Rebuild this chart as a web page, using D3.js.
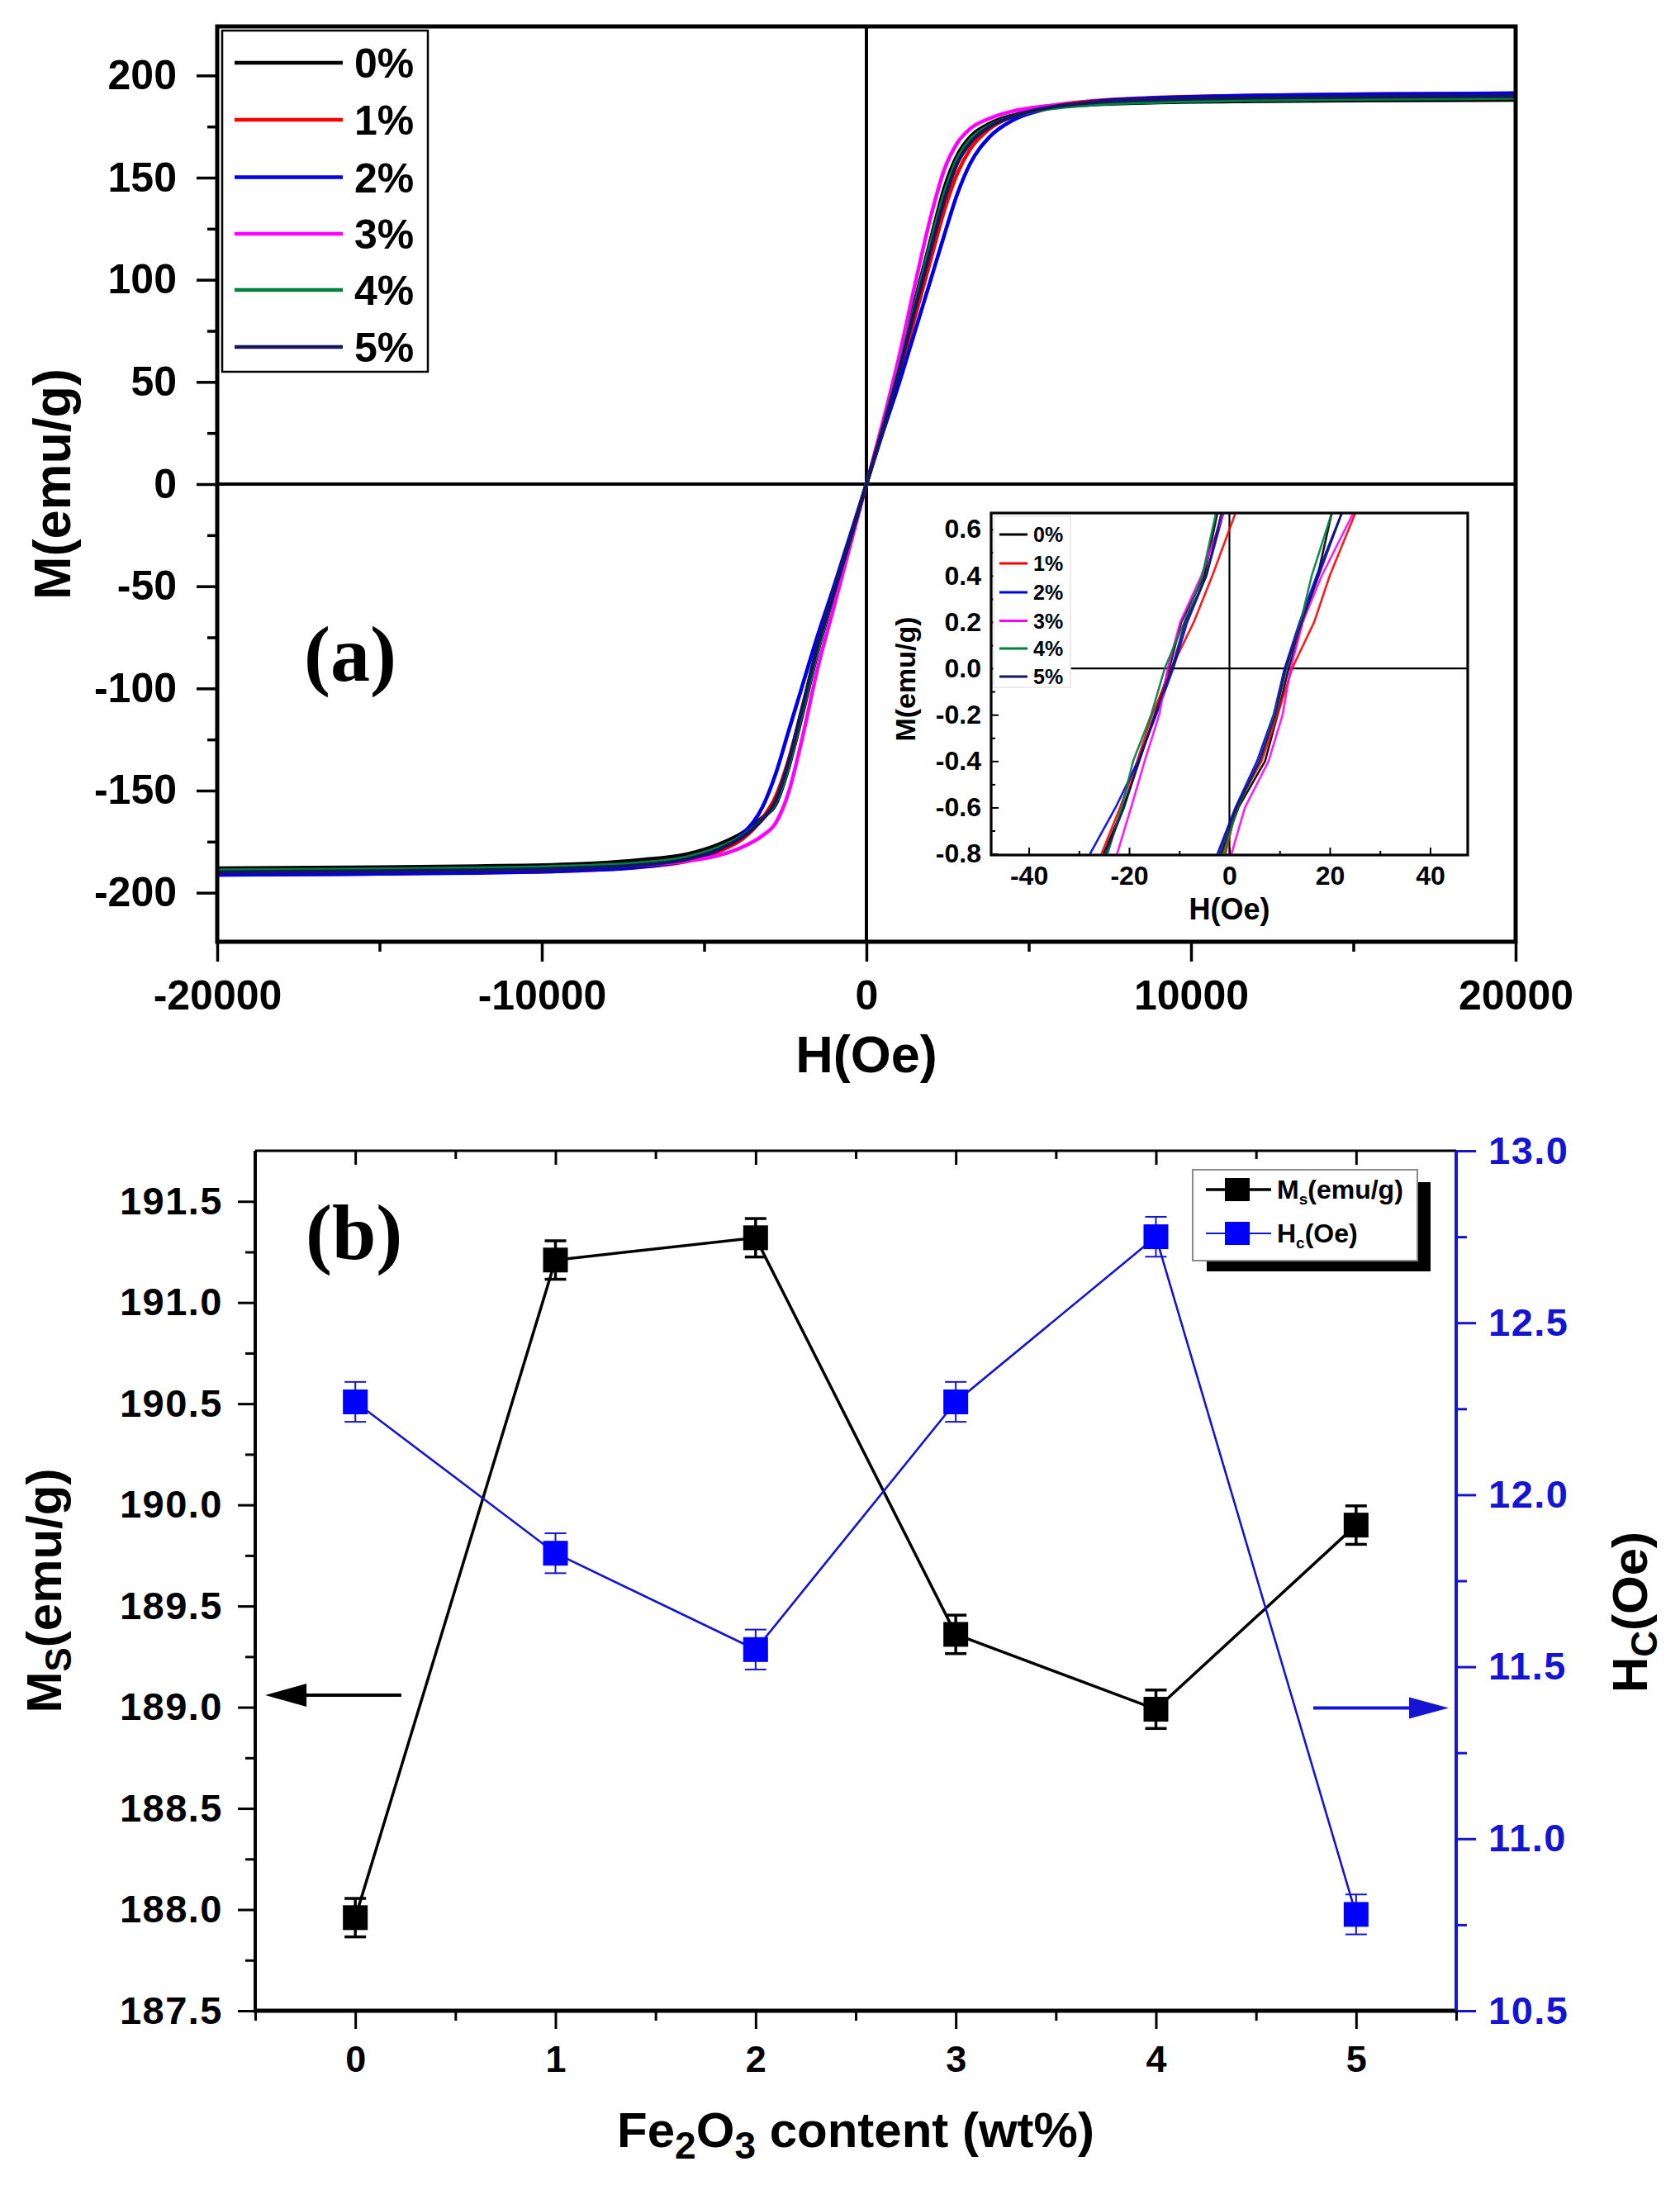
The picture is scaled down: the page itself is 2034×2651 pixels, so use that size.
<!DOCTYPE html>
<html><head><meta charset="utf-8">
<script src="https://cdn.jsdelivr.net/npm/d3@7"></script>
<style>html,body{margin:0;padding:0;background:#fff;}svg{display:block;}</style>
</head><body>
<svg id="chart" width="2034" height="2651" viewBox="0 0 2034 2651"></svg>
<script>
// ================= DATA =================
// Panel (a): hysteresis loops, M (emu/g) vs H (Oe)
const seriesNames = ["0%", "1%", "2%", "3%", "4%", "5%"];
const seriesColors = ["#000000", "#ff0000", "#0000e6", "#ff00ff", "#008040", "#16165e"];
const fieldH = [-20000,-16000,-12000,-9000,-7000,-5500,-4500,-3800,-3200,-2800,-2400,-2000,-1500,-1000,-500,0,
                500,1000,1500,2000,2400,2800,3200,3800,4500,5500,7000,9000,12000,16000,20000];
const mag0 = [-188.0,-187.6,-187.0,-186.0,-184.0,-181.0,-176.0,-170.5,-163.0,-157.0,-139.0,-114.5,-82,-54,-27,0,
              28,57,90,121,145,161,170,176.5,180.5,183.8,185.8,186.8,187.4,187.8,188.0];
const mag1 = [-191.2,-190.8,-190.2,-189.2,-187.5,-184.5,-179.5,-173.5,-163.5,-153.0,-135.0,-111.0,-80,-52,-26,0,
              26,52,82,111,134,152,164,174,180,184.6,187.6,189.2,190.2,190.8,191.2];
const mag2 = [-191.3,-190.9,-190.3,-189.2,-187.5,-184.0,-178.5,-171.0,-158.0,-142.0,-121.0,-100.0,-74,-50,-25,0,
              25,49,75,101,122,142,157,170,178,183.5,187.2,189.0,190.2,190.9,191.3];
const mag3 = [-189.4,-189.0,-188.4,-187.6,-186.5,-184.5,-181.5,-177.5,-172.0,-166.0,-151.0,-126.0,-90,-60,-30,0,
              30,62,98,132,154,167,174,179,182.5,185.0,186.8,187.8,188.6,189.0,189.4];
const mag4 = [-189.0,-188.6,-188.0,-187.0,-185.5,-182.5,-177.5,-172.0,-164.0,-156.0,-138.0,-113.0,-81,-53,-27,0,
              27,56,88,119,142,159,168.5,175.5,180,183.5,185.8,187.0,188.0,188.6,189.0];
const mag5 = [-189.9,-189.5,-189.0,-188.0,-186.5,-183.5,-178.5,-172.5,-164.0,-155.0,-136.0,-111.0,-79,-53,-27,0,
              27,55,86,116,139,157,167,175,180,184,186.8,188.2,189.1,189.6,189.9];
const mainTicksM = [-200,-150,-100,-50,0,50,100,150,200];
const mainTicksH = [-20000,-10000,0,10000,20000];

// Inset: low-field detail, H (Oe) at given M levels for each branch
const insetM = [-0.8,-0.6,-0.4,-0.2,0,0.2,0.4,0.67];
const insetDesc0 = [-25.1,-21.2,-18.0,-14.8,-12.0,-9.6,-5.0,-2.4];
const insetDesc1 = [-25.5,-21.8,-18.4,-15.4,-11.6,-7.1,-3.4,1.2];
const insetDesc2 = [-27.8,-22.7,-18.2,-14.6,-11.2,-8.4,-4.6,-1.2];
const insetDesc3 = [-22.4,-19.6,-16.9,-14.0,-12.3,-9.8,-5.6,-1.2];
const insetDesc4 = [-24.3,-21.5,-19.2,-15.6,-12.9,-9.0,-5.4,-2.7];
const insetDesc5 = [-24.7,-21.0,-18.0,-14.9,-11.5,-8.8,-4.6,-1.6];
const insetAsc0 = [-1.6,1.8,7.1,9.6,11.8,14.6,17.6,20.4];
const insetAsc1 = [-0.8,1.4,6.4,9.6,12.5,16.9,20.0,25.1];
const insetAsc2 = [-2.4,1.2,5.5,8.8,11.0,14.0,17.4,22.4];
const insetAsc3 = [0.4,3.1,7.8,10.6,12.2,14.6,18.4,24.7];
const insetAsc4 = [-1.2,1.6,6.0,9.0,11.4,14.2,16.4,20.4];
const insetAsc5 = [-2.0,1.4,6.0,9.2,11.2,14.4,17.8,22.4];
const insetTicksH = [-40,-20,0,20,40];
const insetTicksM = [-0.8,-0.6,-0.4,-0.2,0,0.2,0.4,0.6];

// Panel (b): Ms and Hc vs Fe2O3 content
const content = [0,1,2,3,4,5];
const msValues = [187.96,191.21,191.32,189.36,188.99,189.90];
const msErrors = [0.095,0.095,0.095,0.095,0.095,0.095];
const hcValues = [12.27,11.83,11.55,12.27,12.75,10.78];
const hcErrors = [0.058,0.058,0.058,0.058,0.058,0.058];
const msTicks = [187.5,188.0,188.5,189.0,189.5,190.0,190.5,191.0,191.5];
const hcTicks = [10.5,11.0,11.5,12.0,12.5,13.0];

// ================= DRAW =================
const SANS = "'Liberation Sans', Arial, Helvetica, sans-serif";
const SERIF = "'Liberation Serif', 'Times New Roman', serif";
const svg = d3.select("#chart");
svg.append("rect").attr("width", 2034).attr("height", 2651).attr("fill", "#fff");
const defs = svg.append("defs");

function drawAxis(axis, transform, o) {
  const g = svg.append("g").attr("transform", transform).call(axis);
  g.select(".domain").remove();
  g.selectAll(".tick line").attr("stroke", o.color || "#000").attr("stroke-width", o.width || 3);
  g.selectAll(".tick text").attr("fill", o.color || "#000")
    .style("font-family", SANS).style("font-size", (o.fs || 40) + "px").style("font-weight", "bold");
  if (o.letter) g.selectAll(".tick text").style("letter-spacing", o.letter + "px");
  return g;
}
function txt(x, y, s, o) {
  return svg.append("text").attr("x", x).attr("y", y).text(s)
    .style("font-family", o.font || SANS).style("font-size", o.fs + "px")
    .style("font-weight", "bold").attr("fill", o.color || "#000")
    .attr("text-anchor", o.anchor || "start");
}

// ---------- Panel (a) ----------
const A = {l: 263, r: 1835, t: 32, b: 1140};
const xA = d3.scaleLinear().domain([-20000, 20000]).range([A.l, A.r]);
const yA = d3.scaleLinear().domain([-224, 224]).range([A.b, A.t]);
defs.append("clipPath").attr("id", "clipA").append("rect")
  .attr("x", A.l).attr("y", A.t).attr("width", A.r - A.l).attr("height", A.b - A.t);

// zero lines
svg.append("line").attr("x1", A.l).attr("x2", A.r).attr("y1", yA(0)).attr("y2", yA(0)).attr("stroke", "#000").attr("stroke-width", 4);
svg.append("line").attr("x1", xA(0)).attr("x2", xA(0)).attr("y1", A.t).attr("y2", A.b).attr("stroke", "#000").attr("stroke-width", 4);

const mainSeries = [mag0, mag1, mag2, mag3, mag4, mag5];
const lineA = d3.line().x(d => xA(d[0])).y(d => yA(d[1])).curve(d3.curveMonotoneX);
const gCurves = svg.append("g").attr("clip-path", "url(#clipA)");
mainSeries.forEach((m, i) => {
  gCurves.append("path").datum(fieldH.map((h, j) => [h, m[j]]))
    .attr("d", lineA).attr("fill", "none").attr("stroke", seriesColors[i])
    .attr("stroke-width", 4.5).attr("stroke-linejoin", "round");
});

// axes a
drawAxis(d3.axisLeft(yA).tickValues([-175,-125,-75,-25,25,75,125,175]).tickSize(12).tickFormat(""), `translate(${A.l},0)`, {width: 3.5});
drawAxis(d3.axisLeft(yA).tickValues(mainTicksM).tickSize(25).tickPadding(24).tickFormat(d => String(d)), `translate(${A.l},0)`, {fs: 50, width: 3.5});
drawAxis(d3.axisBottom(xA).tickValues([-15000,-5000,5000,15000]).tickSize(12).tickFormat(""), `translate(0,${A.b})`, {width: 3.5});
drawAxis(d3.axisBottom(xA).tickValues(mainTicksH).tickSize(24).tickPadding(22).tickFormat(d => String(d)), `translate(0,${A.b})`, {fs: 50, width: 3.5});
svg.append("rect").attr("x", A.l).attr("y", A.t).attr("width", A.r - A.l).attr("height", A.b - A.t)
  .attr("fill", "none").attr("stroke", "#000").attr("stroke-width", 5);

// titles a
txt(xA(0), 1298, "H(Oe)", {fs: 63, anchor: "middle"});
txt(0, 0, "M(emu/g)", {fs: 63, anchor: "middle"}).attr("transform", `translate(85,${yA(0)}) rotate(-90)`);
txt(368, 824, "(a)", {fs: 96, font: SERIF});

// legend a
svg.append("rect").attr("x", 269).attr("y", 37).attr("width", 249).attr("height", 413)
  .attr("fill", "#fff").attr("stroke", "#000").attr("stroke-width", 2.5);
const legRowsA = [76, 145, 214.5, 283, 351, 420];
seriesNames.forEach((n, i) => {
  svg.append("line").attr("x1", 284).attr("x2", 415).attr("y1", legRowsA[i]).attr("y2", legRowsA[i])
    .attr("stroke", seriesColors[i]).attr("stroke-width", 4.5);
  txt(429, legRowsA[i], n, {fs: 50}).attr("dy", "0.36em");
});

// ---------- Inset ----------
const I = {l: 1200, r: 1777, t: 621, b: 1035};
const xI = d3.scaleLinear().domain([-47.5, 47.5]).range([I.l, I.r]);
const yI = d3.scaleLinear().domain([-0.805, 0.67]).range([I.b, I.t]);
defs.append("clipPath").attr("id", "clipI").append("rect")
  .attr("x", I.l).attr("y", I.t).attr("width", I.r - I.l).attr("height", I.b - I.t);
svg.append("rect").attr("x", I.l).attr("y", I.t).attr("width", I.r - I.l).attr("height", I.b - I.t).attr("fill", "#fff");
svg.append("line").attr("x1", I.l).attr("x2", I.r).attr("y1", yI(0)).attr("y2", yI(0)).attr("stroke", "#000").attr("stroke-width", 2.2);
svg.append("line").attr("x1", xI(0)).attr("x2", xI(0)).attr("y1", I.t).attr("y2", I.b).attr("stroke", "#000").attr("stroke-width", 2.2);

const descSeries = [insetDesc0, insetDesc1, insetDesc2, insetDesc3, insetDesc4, insetDesc5];
const ascSeries = [insetAsc0, insetAsc1, insetAsc2, insetAsc3, insetAsc4, insetAsc5];
const lineI = d3.line().x(d => xI(d[0])).y(d => yI(d[1]));
const gI = svg.append("g").attr("clip-path", "url(#clipI)");
[0, 1, 2, 3, 4, 5].forEach(i => {
  [descSeries[i], ascSeries[i]].forEach(br => {
    gI.append("path").datum(br.map((h, j) => [h, insetM[j]])).attr("d", lineI)
      .attr("fill", "none").attr("stroke", seriesColors[i]).attr("stroke-width", 2.6)
      .attr("stroke-opacity", 0.9).attr("stroke-linejoin", "round");
  });
});

// inset axes (ticks inward)
drawAxis(d3.axisBottom(xI).tickValues([-30,-10,10,30]).tickSize(-5).tickFormat(""), `translate(0,${I.b})`, {width: 2});
drawAxis(d3.axisBottom(xI).tickValues(insetTicksH).tickSize(-9).tickPadding(13).tickFormat(d => String(d)), `translate(0,${I.b})`, {fs: 32, width: 2});
drawAxis(d3.axisLeft(yI).tickValues([-0.7,-0.5,-0.3,-0.1,0.1,0.3,0.5]).tickSize(-5).tickFormat(""), `translate(${I.l},0)`, {width: 2});
drawAxis(d3.axisLeft(yI).tickValues(insetTicksM).tickSize(-9).tickPadding(12).tickFormat(d => d.toFixed(1)), `translate(${I.l},0)`, {fs: 32, width: 2});
svg.append("rect").attr("x", I.l).attr("y", I.t).attr("width", I.r - I.l).attr("height", I.b - I.t)
  .attr("fill", "none").attr("stroke", "#000").attr("stroke-width", 3.2);
txt(xI(0), 1113, "H(Oe)", {fs: 36, anchor: "middle"});
txt(0, 0, "M(emu/g)", {fs: 34, anchor: "middle"}).attr("transform", `translate(1108,822) rotate(-90)`);

// inset legend
svg.append("rect").attr("x", 1203).attr("y", 625).attr("width", 93).attr("height", 207)
  .attr("fill", "#fff").attr("stroke", "#e4e4e4").attr("stroke-width", 1.5);
const legRowsI = [647, 682, 717, 751.5, 785, 819];
seriesNames.forEach((n, i) => {
  svg.append("line").attr("x1", 1210).attr("x2", 1244).attr("y1", legRowsI[i]).attr("y2", legRowsI[i])
    .attr("stroke", seriesColors[i]).attr("stroke-width", 3.2);
  txt(1251, legRowsI[i], n, {fs: 25}).attr("dy", "0.36em");
});

// ---------- Panel (b) ----------
const B = {l: 309, r: 1763, t: 1393, b: 2434};
const xB = d3.scaleLinear().domain([-0.5, 5.5]).range([B.l, B.r]);
const yL = d3.scaleLinear().domain([187.5, 191.75]).range([B.b, B.t]);
const yR = d3.scaleLinear().domain([10.5, 13.0]).range([B.b, B.t]);
const BLUE = "#1414d2";

// bottom axis
drawAxis(d3.axisBottom(xB).tickValues([-0.5,0.5,1.5,2.5,3.5,4.5,5.5]).tickSize(12).tickFormat(""), `translate(0,${B.b})`, {width: 3});
drawAxis(d3.axisBottom(xB).tickValues(content).tickSize(22).tickPadding(20).tickFormat(d => String(d)), `translate(0,${B.b})`, {fs: 45, width: 3});
// top axis inward
drawAxis(d3.axisTop(xB).tickValues([0.5,1.5,2.5,3.5,4.5]).tickSize(-10).tickFormat(""), `translate(0,${B.t})`, {width: 3});
drawAxis(d3.axisTop(xB).tickValues(content).tickSize(-17).tickFormat(""), `translate(0,${B.t})`, {width: 3});
// left axis
drawAxis(d3.axisLeft(yL).tickValues([187.75,188.25,188.75,189.25,189.75,190.25,190.75,191.25]).tickSize(12).tickFormat(""), `translate(${B.l},0)`, {width: 3});
drawAxis(d3.axisLeft(yL).tickValues(msTicks).tickSize(21).tickPadding(18).tickFormat(d => d.toFixed(1)), `translate(${B.l},0)`, {fs: 47, width: 3, letter: 1.5});
// right axis
drawAxis(d3.axisRight(yR).tickValues([10.75,11.25,11.75,12.25,12.75]).tickSize(13).tickFormat(""), `translate(${B.r},0)`, {width: 3, color: BLUE});
drawAxis(d3.axisRight(yR).tickValues(hcTicks).tickSize(24).tickPadding(15).tickFormat(d => d.toFixed(1)), `translate(${B.r},0)`, {fs: 47, width: 3, color: BLUE, letter: 1.5});
// frame
svg.append("line").attr("x1", B.l).attr("x2", B.r).attr("y1", B.t).attr("y2", B.t).attr("stroke", "#000").attr("stroke-width", 3);
svg.append("line").attr("x1", B.l - 2).attr("x2", B.r + 2).attr("y1", B.b).attr("y2", B.b).attr("stroke", "#000").attr("stroke-width", 5);
svg.append("line").attr("x1", B.l).attr("x2", B.l).attr("y1", B.t).attr("y2", B.b).attr("stroke", "#000").attr("stroke-width", 4);
svg.append("line").attr("x1", B.r).attr("x2", B.r).attr("y1", B.t).attr("y2", B.b).attr("stroke", BLUE).attr("stroke-width", 4);

// data lines
const msPts = content.map((c, i) => [c, msValues[i], msErrors[i]]);
const hcPts = content.map((c, i) => [c, hcValues[i], hcErrors[i]]);
svg.append("path").datum(msPts).attr("d", d3.line().x(d => xB(d[0])).y(d => yL(d[1])))
  .attr("fill", "none").attr("stroke", "#000").attr("stroke-width", 3.5);
svg.append("path").datum(hcPts).attr("d", d3.line().x(d => xB(d[0])).y(d => yR(d[1])))
  .attr("fill", "none").attr("stroke", BLUE).attr("stroke-width", 2.6);

function points(pts, ys, color, fillc, ew) {
  const g = svg.append("g");
  pts.forEach(d => {
    const x = xB(d[0]), y0 = ys(d[1] - d[2]), y1 = ys(d[1] + d[2]);
    g.append("line").attr("x1", x).attr("x2", x).attr("y1", y0).attr("y2", y1).attr("stroke", color).attr("stroke-width", ew);
    g.append("line").attr("x1", x - 13).attr("x2", x + 13).attr("y1", y0).attr("y2", y0).attr("stroke", color).attr("stroke-width", ew);
    g.append("line").attr("x1", x - 13).attr("x2", x + 13).attr("y1", y1).attr("y2", y1).attr("stroke", color).attr("stroke-width", ew);
    g.append("rect").attr("x", x - 15).attr("y", ys(d[1]) - 15).attr("width", 30).attr("height", 30).attr("fill", fillc);
  });
}
points(msPts, yL, "#000", "#000", 3.5);
points(hcPts, yR, BLUE, "#0000ff", 2);

// arrows
const arrowY1 = yL(189.06);
svg.append("line").attr("x1", xB(0.23)).attr("x2", xB(-0.35)).attr("y1", arrowY1).attr("y2", arrowY1).attr("stroke", "#000").attr("stroke-width", 4);
svg.append("path").attr("d", `M${xB(-0.45)},${arrowY1} L${xB(-0.45) + 50},${arrowY1 - 14} L${xB(-0.45) + 50},${arrowY1 + 14} Z`).attr("fill", "#000");
const arrowY2 = yR(11.38);
svg.append("line").attr("x1", xB(4.786)).attr("x2", xB(5.35)).attr("y1", arrowY2).attr("y2", arrowY2).attr("stroke", BLUE).attr("stroke-width", 4);
svg.append("path").attr("d", `M${xB(5.463)},${arrowY2} L${xB(5.463) - 48},${arrowY2 - 13} L${xB(5.463) - 48},${arrowY2 + 13} Z`).attr("fill", BLUE);

// titles b
txt(370, 1524, "(b)", {fs: 96, font: SERIF});
const xt = txt(xB(2.5), 2599, "", {fs: 60, anchor: "middle"});
xt.append("tspan").text("Fe");
xt.append("tspan").text("2").style("font-size", "46px").attr("dy", 14);
xt.append("tspan").text("O").attr("dy", -14);
xt.append("tspan").text("3").style("font-size", "46px").attr("dy", 14);
xt.append("tspan").text(" content (wt%)").attr("dy", -14);

const lt = txt(0, 0, "", {fs: 60, anchor: "middle"}).attr("transform", `translate(74,${(B.t + B.b) / 2 + 12}) rotate(-90)`);
lt.append("tspan").text("M");
lt.append("tspan").text("S").style("font-size", "44px").attr("dy", 12);
lt.append("tspan").text("(emu/g)").attr("dy", -12);

const rt = txt(0, 0, "", {fs: 60, anchor: "middle"}).attr("transform", `translate(1994,${(B.t + B.b) / 2 + 38}) rotate(-90)`);
rt.append("tspan").text("H");
rt.append("tspan").text("C").style("font-size", "44px").attr("dy", 12);
rt.append("tspan").text("(Oe)").attr("dy", -12);

// legend b
svg.append("rect").attr("x", 1461).attr("y", 1431).attr("width", 271).attr("height", 108).attr("fill", "#000");
svg.append("rect").attr("x", 1444).attr("y", 1416).attr("width", 272).attr("height", 110)
  .attr("fill", "#fff").attr("stroke", "#8a8a8a").attr("stroke-width", 2);
const legB = [
  {y: 1440, color: "#000", fill: "#000", lw: 3.5, main: "M", sub: "s", rest: "(emu/g)"},
  {y: 1493, color: BLUE, fill: "#0000ff", lw: 2.2, main: "H", sub: "c", rest: "(Oe)"}
];
legB.forEach(e => {
  svg.append("line").attr("x1", 1460).attr("x2", 1539).attr("y1", e.y).attr("y2", e.y).attr("stroke", e.color).attr("stroke-width", e.lw);
  svg.append("rect").attr("x", 1483).attr("y", e.y - 14).attr("width", 30).attr("height", 28).attr("fill", e.fill);
  const t = txt(1546, e.y + 11, "", {fs: 32});
  t.append("tspan").text(e.main);
  t.append("tspan").text(e.sub).style("font-size", "19px").attr("dy", 7);
  t.append("tspan").text(e.rest).attr("dy", -7);
});
</script>
</body></html>
